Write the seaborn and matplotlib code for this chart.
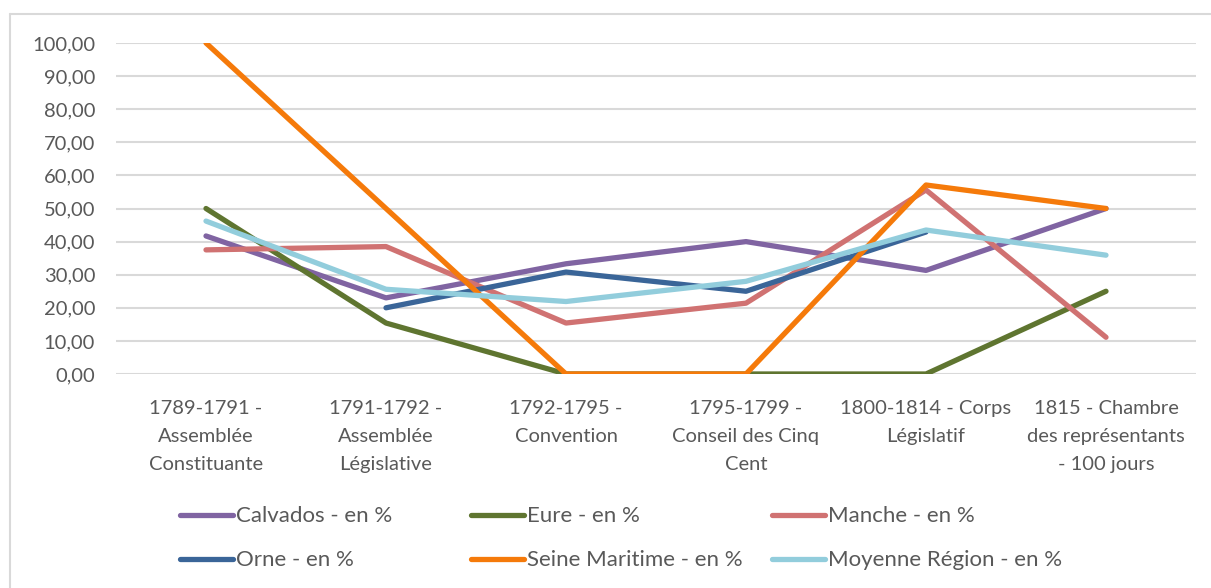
import matplotlib
matplotlib.use("Agg")
import matplotlib.pyplot as plt
import seaborn as sns
import numpy as np
import pandas as pd
from matplotlib.lines import Line2D
from matplotlib.ticker import FuncFormatter

categories = [
    "1789-1791 -\nAssemblée\nConstituante",
    "1791-1792 -\nAssemblée\nLégislative",
    "1792-1795 -\nConvention",
    "1795-1799 -\nConseil des Cinq\nCent",
    "1800-1814 - Corps\nLégislatif",
    "1815 - Chambre\ndes représentants\n- 100 jours",
]
calvados = [41.7, 23.0, 33.3, 40.0, 31.3, 50.0]
eure = [50.0, 15.4, 0.0, 0.0, 0.0, 25.0]
manche = [37.5, 38.5, 15.4, 21.4, 55.6, 11.1]
orne = [np.nan, 20.0, 30.8, 25.0, 42.9, np.nan]
seine_maritime = [100.0, 50.0, 0.0, 0.0, 57.1, 50.0]
moyenne = [46.2, 25.6, 21.9, 28.0, 43.5, 35.9]

series_names = ["Calvados - en %", "Eure - en %", "Manche - en %",
                "Orne - en %", "Seine Maritime - en %", "Moyenne Région - en %"]
series_values = [calvados, eure, manche, orne, seine_maritime, moyenne]
colors = ["#8064A2", "#5F7530", "#D07272", "#3A6598", "#F57A0A", "#92CDDC"]

rows = []
for name, vals in zip(series_names, series_values):
    for i, v in enumerate(vals):
        rows.append({"x": i, "value": v, "serie": name})
df = pd.DataFrame(rows).dropna()

sns.set_theme(style="white")
plt.rcParams["font.family"] = ["Lato", "DejaVu Sans"]
text_color = "#595959"

fig = plt.figure(figsize=(12.11, 5.88), dpi=100)
ax = fig.add_axes([116 / 1211, 1 - 374 / 588, 1080 / 1211, 331 / 588])

palette = dict(zip(series_names, colors))
sns.lineplot(data=df, x="x", y="value", hue="serie", hue_order=series_names,
             palette=palette, linewidth=3.8, ax=ax, legend=False,
             solid_capstyle="round", solid_joinstyle="round")

ax.set_xlim(-0.5, 5.5)
ax.set_ylim(0, 100)
ax.set_yticks(np.arange(0, 101, 10))
ax.yaxis.set_major_formatter(FuncFormatter(lambda v, p: f"{v:.2f}".replace(".", ",")))
ax.set_xticks(range(len(categories)))
ax.set_xticklabels(categories, linespacing=1.78)
ax.tick_params(axis="both", length=0, labelsize=14.5, colors=text_color)
ax.tick_params(axis="x", pad=19)
ax.tick_params(axis="y", pad=15)
ax.grid(axis="y", color="#D9D9D9", linewidth=1.5)
ax.set_axisbelow(True)
for s in ax.spines.values():
    s.set_visible(False)
ax.set_xlabel("")
ax.set_ylabel("")

# legend: 3 columns of equal width, 2 rows (row-major order like the original)
col_x = [180, 471, 772]
for c in range(3):
    idx = [c, c + 3]
    handles = [Line2D([0], [0], color=colors[i], linewidth=3.8, solid_capstyle="round") for i in idx]
    leg = fig.legend(handles, [series_names[i] for i in idx], loc="center left",
                     bbox_to_anchor=(col_x[c] / 1211, 1 - 538.5 / 588), frameon=False,
                     fontsize=16, handlelength=2.4, handletextpad=0.12,
                     labelspacing=1.08, borderpad=0, borderaxespad=0)
    for t in leg.get_texts():
        t.set_color(text_color)

# chart border
fig.add_artist(Line2D([10 / 1211, 10 / 1211], [0, 1 - 14 / 588], transform=fig.transFigure,
                      color="#D9D9D9", linewidth=1.5))
fig.add_artist(Line2D([10 / 1211, 1], [1 - 14 / 588, 1 - 14 / 588], transform=fig.transFigure,
                      color="#D9D9D9", linewidth=1.5))

fig.savefig("out.png", dpi=100)
